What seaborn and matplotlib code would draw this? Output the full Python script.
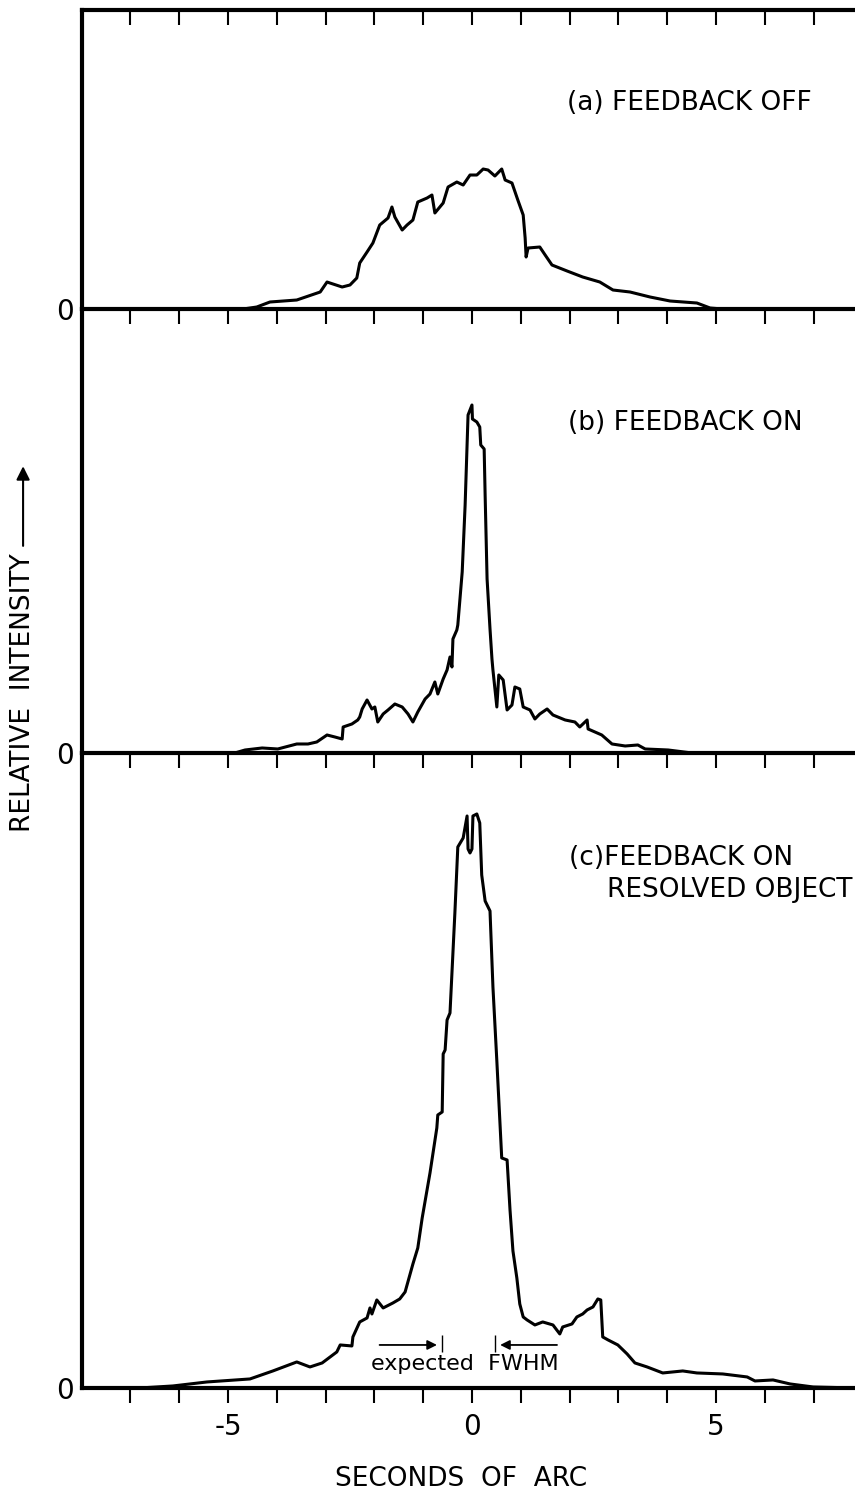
import numpy as np
import pandas as pd
import seaborn as sns
import matplotlib.pyplot as plt

# (a) feedback off: offset in arcsec, relative intensity
off_x = [-4.69, -4.41, -4.14, -3.59, -3.11, -2.97, -2.91, -2.66, -2.50, -2.36, -2.30, -2.15,
         -2.03, -1.89, -1.72, -1.64, -1.58, -1.43, -1.33, -1.21, -1.11, -0.92, -0.82, -0.76,
         -0.59, -0.49, -0.31, -0.18, -0.04, 0.10, 0.23, 0.33, 0.47, 0.61, 0.68, 0.82, 0.94,
         1.05, 1.09, 1.11, 1.15, 1.39, 1.50, 1.64, 1.95, 2.27, 2.62, 2.89, 3.24, 3.65, 4.06,
         4.61, 4.88, 5.14]
off_y = [0, 2, 7, 9, 17, 27, 26, 22, 24, 31, 46, 57,
         66, 84, 91, 102, 92, 79, 84, 89, 107, 111, 114, 96,
         106, 122, 127, 124, 134, 134, 140, 139, 133, 140, 129, 126, 109,
         94, 71, 52, 61, 62, 54, 44, 38, 32, 27, 19, 17, 12, 8,
         6, 1, 0]

# (b) feedback on
on_x = [-4.86, -4.65, -4.30, -3.98, -3.59, -3.36, -3.18, -2.97, -2.81, -2.66, -2.64, -2.46,
        -2.34, -2.30, -2.25, -2.15, -2.05, -1.99, -1.93, -1.82, -1.72, -1.58, -1.43, -1.31,
        -1.21, -1.11, -0.96, -0.86, -0.76, -0.70, -0.59, -0.51, -0.45, -0.41, -0.39, -0.31,
        -0.29, -0.20, -0.14, -0.08, 0.00, 0.01, 0.10, 0.16, 0.18, 0.25, 0.27, 0.31, 0.37,
        0.41, 0.43, 0.51, 0.55, 0.64, 0.72, 0.82, 0.88, 0.98, 1.05, 1.19, 1.29, 1.39, 1.54,
        1.66, 1.91, 2.11, 2.21, 2.36, 2.38, 2.66, 2.87, 3.14, 3.40, 3.55, 4.02, 4.51]
on_y = [0, 3, 5, 4, 9, 9, 11, 18, 16, 14, 26, 29,
        33, 36, 44, 53, 44, 46, 31, 39, 43, 49, 46, 39,
        31, 41, 54, 59, 71, 59, 74, 83, 96, 86, 114, 123,
        128, 181, 248, 338, 348, 334, 331, 326, 308, 304, 258, 174, 124,
        94, 83, 46, 78, 73, 43, 48, 66, 64, 46, 43, 34, 39, 44,
        38, 33, 31, 26, 33, 24, 18, 9, 7, 8, 4, 3, 0]

# (c) feedback on, resolved object
res_x = [-6.80, -6.13, -5.43, -4.55, -4.08, -3.59, -3.32, -3.07, -2.77, -2.70, -2.46, -2.44,
         -2.30, -2.15, -2.09, -2.05, -1.95, -1.82, -1.62, -1.48, -1.37, -1.33, -1.21, -1.11,
         -1.02, -0.86, -0.72, -0.70, -0.61, -0.59, -0.55, -0.51, -0.45, -0.35, -0.29, -0.18,
         -0.10, -0.08, -0.04, 0.00, 0.02, 0.10, 0.16, 0.20, 0.27, 0.37, 0.43, 0.51, 0.61,
         0.72, 0.78, 0.84, 0.92, 0.98, 1.05, 1.13, 1.29, 1.45, 1.66, 1.80, 1.86, 2.05, 2.15,
         2.27, 2.36, 2.48, 2.58, 2.64, 2.68, 2.79, 2.99, 3.18, 3.34, 3.59, 3.91, 4.32, 4.61,
         5.14, 5.64, 5.80, 6.17, 6.52, 6.99, 7.85]
res_y = [0, 2, 6, 9, 17, 26, 21, 25, 36, 43, 42, 51,
         66, 70, 80, 74, 88, 80, 85, 89, 96, 103, 124, 140,
         170, 215, 260, 273, 276, 334, 338, 368, 375, 475, 541, 550,
         572, 539, 535, 539, 572, 574, 565, 513, 487, 477, 401, 327, 230,
         228, 178, 137, 110, 84, 71, 68, 63, 66, 63, 54, 61, 64, 71,
         74, 78, 81, 89, 88, 51, 48, 43, 34, 25, 21, 15, 17, 15,
         14, 11, 7, 8, 4, 1, 0]

panels = [
    (off_x, off_y, 299),
    (on_x, on_y, 444),
    (res_x, res_y, 635),
]
ticks = list(range(-7, 8))
fwhm_left, fwhm_right = -0.61, 0.47

sns.set_style('white')
plt.rcParams['font.family'] = ['DejaVu Sans']
plt.rcParams['text.color'] = 'black'
plt.rcParams['xtick.color'] = 'black'
plt.rcParams['ytick.color'] = 'black'

fig, axes = plt.subplots(3, 1, figsize=(8.55, 14.95), dpi=100,
                         gridspec_kw={'height_ratios': [p[2] for p in panels], 'hspace': 0})
fig.subplots_adjust(left=0.096, right=1.0, top=0.9933, bottom=0.0716)

for i, (ax, (xs, ys, top)) in enumerate(zip(axes, panels)):
    df = pd.DataFrame({'offset': xs, 'intensity': ys})
    sns.lineplot(data=df, x='offset', y='intensity', ax=ax, color='black',
                 linewidth=2.2, sort=False, estimator=None)
    ax.set_facecolor('none')
    ax.set_xlim(-7.99, 7.85)
    ax.set_ylim(0, top)
    ax.set_xlabel('')
    ax.set_ylabel('')
    for s in ['top', 'right']:
        ax.spines[s].set_visible(False)
    for s in ['left', 'bottom']:
        ax.spines[s].set_linewidth(3)
        ax.spines[s].set_color('black')
    ax.set_xticks(ticks)
    ax.set_xticklabels([str(t) if t in (-5, 0, 5) else '' for t in ticks])
    ax.tick_params(axis='x', direction='out', length=11, width=1.5,
                   bottom=True, labelbottom=(i == 2), labelsize=20, pad=7)
    ax.set_yticks([0])
    ax.set_yticklabels(['0'])
    ax.tick_params(axis='y', length=0, pad=6, labelsize=20)

# panel captions
axes[0].text(1.95, 206, '(a) FEEDBACK OFF', fontsize=19, ha='left', va='center')
axes[1].text(1.97, 330, '(b) FEEDBACK ON', fontsize=19, ha='left', va='center')
axes[2].text(1.99, 530, '(c)FEEDBACK ON', fontsize=19, ha='left', va='center')
axes[2].text(2.77, 498, 'RESOLVED OBJECT', fontsize=19, ha='left', va='center')

# top frame of first panel with inward ticks
sec = axes[0].secondary_xaxis('top')
sec.set_xticks(ticks)
sec.tick_params(direction='in', length=11, width=1.5, labeltop=False)
sec.spines['top'].set_linewidth(3)
sec.spines['top'].set_color('black')

# expected FWHM marker in panel (c)
ax = axes[2]
ax.annotate('', xy=(fwhm_left - 0.05, 43), xytext=(-1.95, 43),
            arrowprops=dict(arrowstyle='-|>', color='black', lw=1.3, mutation_scale=14))
ax.annotate('', xy=(fwhm_right + 0.05, 43), xytext=(1.80, 43),
            arrowprops=dict(arrowstyle='-|>', color='black', lw=1.3, mutation_scale=14))
ax.vlines([fwhm_left, fwhm_right], 36, 53, color='black', lw=1)
ax.text(-0.14, 24, 'expected  FWHM', fontsize=16, ha='center', va='center')

fig.text(0.539, 0.011, 'SECONDS  OF  ARC', fontsize=19, ha='center', va='center')
fig.text(0.027, 0.537, 'RELATIVE  INTENSITY', fontsize=19, rotation=90,
         ha='center', va='center')
axes[0].annotate('', xy=(0.027, 0.690), xytext=(0.027, 0.633), xycoords='figure fraction',
                 textcoords='figure fraction',
                 arrowprops=dict(arrowstyle='-|>', color='black', lw=1.5, mutation_scale=20))

fig.savefig('out.png', dpi=100, facecolor='white')
